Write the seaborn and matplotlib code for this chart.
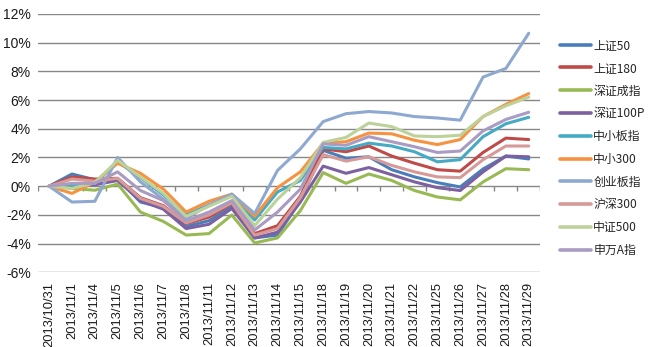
import numpy as np
import pandas as pd
import matplotlib
matplotlib.use("Agg")
import matplotlib.pyplot as plt
from matplotlib.ticker import FuncFormatter, FixedLocator
import seaborn as sns

dates = ["2013/10/31", "2013/11/1", "2013/11/4", "2013/11/5", "2013/11/6", "2013/11/7",
         "2013/11/8", "2013/11/11", "2013/11/12", "2013/11/13", "2013/11/14", "2013/11/15",
         "2013/11/18", "2013/11/19", "2013/11/20", "2013/11/21", "2013/11/22", "2013/11/25",
         "2013/11/26", "2013/11/27", "2013/11/28", "2013/11/29"]

# cumulative returns, %
sz50 = [0, 0.85, 0.45, 0.5, -1.1, -1.5, -2.8, -2.4, -1.4, -3.6, -3.4, -1.0,
        2.5, 1.95, 2.05, 1.15, 0.65, 0.25, -0.05, 1.2, 2.1, 1.9]
sz180 = [0, 0.65, 0.5, 0.55, -0.8, -1.35, -2.6, -2.15, -1.2, -3.3, -2.75, -0.7,
         2.6, 2.4, 2.8, 2.1, 1.6, 1.15, 1.05, 2.35, 3.35, 3.25]
szcz = [0, -0.15, -0.28, 0.15, -1.8, -2.45, -3.4, -3.3, -2.0, -3.95, -3.6, -1.7,
        0.95, 0.2, 0.85, 0.4, -0.3, -0.75, -0.95, 0.3, 1.22, 1.15]
sz100p = [0, 0.1, 0.1, 0.4, -1.0, -1.6, -2.95, -2.65, -1.55, -3.6, -3.2, -1.1,
          1.4, 0.9, 1.3, 0.8, 0.3, -0.1, -0.3, 1.0, 2.1, 2.05]
zxb = [0, 0.1, 0.2, 1.7, 0.6, -0.6, -2.0, -1.3, -0.65, -2.35, -0.4, 0.4,
       2.7, 2.6, 3.0, 2.8, 2.4, 1.7, 1.85, 3.45, 4.35, 4.8]
zx300 = [0, -0.5, 0.3, 1.6, 0.9, -0.2, -1.8, -1.05, -0.55, -2.1, -0.1, 1.0,
         3.0, 3.1, 3.7, 3.65, 3.2, 2.9, 3.25, 4.85, 5.7, 6.45]
cyb = [0, -1.1, -1.05, 2.0, 0.3, -0.9, -2.25, -1.3, -0.55, -1.9, 1.1, 2.6,
       4.5, 5.05, 5.2, 5.1, 4.85, 4.75, 4.6, 7.6, 8.2, 10.65]
hs300 = [0, 0.5, 0.35, 0.55, -0.85, -1.4, -2.55, -2.0, -1.15, -3.4, -2.95, -0.8,
         2.2, 1.75, 2.05, 1.45, 1.0, 0.65, 0.6, 1.85, 2.8, 2.8]
zz500 = [0, -0.15, 0.25, 1.8, 0.65, -0.5, -2.1, -1.4, -0.7, -2.75, -0.9, 0.6,
         3.05, 3.4, 4.4, 4.15, 3.5, 3.45, 3.55, 4.85, 5.6, 6.2]
swa = [0, 0.2, 0.2, 1.0, -0.3, -1.0, -2.4, -1.8, -1.0, -3.05, -1.8, -0.2,
       2.95, 2.85, 3.45, 3.1, 2.75, 2.35, 2.45, 3.85, 4.65, 5.15]

names = ["上证50", "上证180", "深证成指", "深证100P", "中小板指",
         "中小300", "创业板指", "沪深300", "中证500", "申万A指"]
series = [sz50, sz180, szcz, sz100p, zxb, zx300, cyb, hs300, zz500, swa]
colors = ["#4A7EBB", "#BE4B48", "#98B954", "#7D60A0", "#46AAC5",
          "#F69240", "#8EA8D0", "#D69A99", "#BCD29A", "#A99BC2"]

rows = []
for name, vals in zip(names, series):
    for i, v in enumerate(vals):
        rows.append({"idx": i, "value": v, "index_name": name})
df = pd.DataFrame(rows)

sns.set_style("white")
plt.rcParams["font.family"] = ["Liberation Sans", "Noto Sans CJK SC", "DejaVu Sans"]

fig = plt.figure(figsize=(6.5, 3.47), dpi=100)
ax = fig.add_axes([0.058, 0.215, 0.773, 0.745])

grid_c = "#878787"
ax.set_ylim(-6, 12)
ax.set_xlim(-0.5, len(dates) - 0.5)
ax.yaxis.set_major_locator(FixedLocator(np.arange(-6, 13, 2)))
ax.yaxis.set_major_formatter(FuncFormatter(lambda v, p: f"{v:.0f}%"))
ax.grid(axis="y", color=grid_c, linewidth=1.0)
ax.set_axisbelow(True)
for s in ax.spines.values():
    s.set_visible(False)

# category tick marks hang below the zero line
ax.vlines(np.arange(len(dates) + 1) - 0.5, -0.32, 0, color=grid_c, linewidth=1.0, zorder=1)

sns.lineplot(data=df, x="idx", y="value", hue="index_name", hue_order=names,
             palette=colors, linewidth=2.2, sort=False, ax=ax, legend=False)

ax.set_xticks(range(len(dates)))
ax.set_xticklabels(dates, rotation=90, fontsize=9.3, color="#1a1a1a")
ax.tick_params(axis="x", length=0, pad=7)
ax.tick_params(axis="y", length=4, color=grid_c, labelsize=10, pad=1, labelcolor="#1a1a1a")
ax.set_xlabel("")
ax.set_ylabel("")

from matplotlib.lines import Line2D
handles = [Line2D([], [], color=c, linewidth=2.6) for c in colors]
fig.legend(handles, names, loc="upper left", bbox_to_anchor=(0.862, 0.888),
           frameon=False, fontsize=8.6, handlelength=2.6, handletextpad=0.15,
           labelspacing=0.82, borderpad=0, borderaxespad=0,
           prop={"family": ["Noto Sans CJK SC", "DejaVu Sans"], "size": 8.6})

fig.savefig("out.png", dpi=100)
